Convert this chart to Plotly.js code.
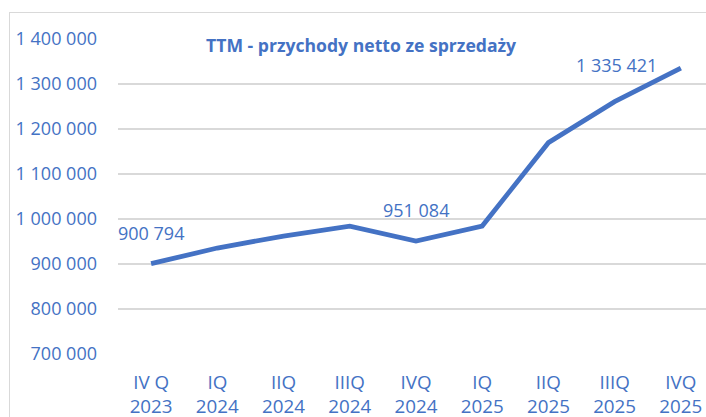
<!DOCTYPE html>
<html>
<head>
<meta charset="utf-8">
<script src="https://cdn.plot.ly/plotly-3.0.1.min.js"></script>
<style>
html,body{margin:0;padding:0;overflow:hidden;background:#fff;width:706px;height:417px;}
#frame{position:absolute;left:9px;top:12px;width:740px;height:440px;border:1.5px solid #d9d9d9;box-sizing:border-box;}
#chart{position:absolute;left:0;top:0;width:706px;height:417px;}
</style>
</head>
<body>
<div id="frame"></div>
<div id="chart"></div>
<script>
const categories = ["IV Q<br>2023","IQ<br>2024","IIQ<br>2024","IIIQ<br>2024","IVQ<br>2024","IQ<br>2025","IIQ<br>2025","IIIQ<br>2025","IVQ<br>2025"];
const values = [900794, 935500, 962000, 984000, 951084, 984500, 1169600, 1260700, 1335421];
const labelledIdx = [0, 4, 8];
const chartTitle = "TTM - przychody netto ze sprzedaży";
const blue = "#4472C4";
const font = "Open Sans, Noto Sans, sans-serif";

function fmt(v){ return String(Math.round(v)).replace(/\B(?=(\d{3})+(?!\d))/g, " "); }

const trace = {
  x: categories.map((c,i)=>i),
  y: values,
  type: "scatter",
  mode: "lines",
  line: {color: blue, width: 4.8},
  hoverinfo: "skip"
};

const annotations = labelledIdx.map((i, k) => {
  const last = (i === values.length - 1);
  return {
    x: i, y: values[i], xref: "x", yref: "y",
    text: fmt(values[i]), showarrow: false,
    font: {family: font, size: 18, color: blue},
    xanchor: last ? "right" : "center",
    yanchor: "middle",
    xshift: last ? -22 : 0,
    yshift: last ? 3 : 31
  };
});
annotations.push({
  xref: "paper", yref: "paper", x: (361-118)/588, y: (354-45)/315,
  text: "<b>" + chartTitle + "</b>", showarrow: false,
  font: {family: font, size: 17.6, color: blue},
  xanchor: "center", yanchor: "middle"
});

const layout = {
  width: 706, height: 417,
  margin: {l: 118, r: 0, t: 39, b: 63, pad: 0},
  paper_bgcolor: "rgba(0,0,0,0)",
  plot_bgcolor: "rgba(0,0,0,0)",
  separators: ", ",
  showlegend: false,
  xaxis: {
    range: [-0.5, 8.38],
    tickmode: "array",
    tickvals: categories.map((c,i)=>i),
    ticktext: categories,
    showgrid: false, zeroline: false, showline: false,
    ticks: "",
    ticklabelstandoff: 15,
    tickfont: {family: font, size: 18.8, color: blue},
    fixedrange: true
  },
  yaxis: {
    range: [700000, 1400000],
    dtick: 100000,
    tickformat: ",d",
    showgrid: true, gridcolor: "#d9d9d9", gridwidth: 1.6,
    zeroline: false, showline: false,
    ticks: "",
    ticklabelstandoff: 20,
    tickfont: {family: font, size: 18, color: blue},
    fixedrange: true
  },
  annotations: annotations
};

Plotly.newPlot("chart", [trace], layout, {displayModeBar: false, staticPlot: true});
</script>
</body>
</html>
